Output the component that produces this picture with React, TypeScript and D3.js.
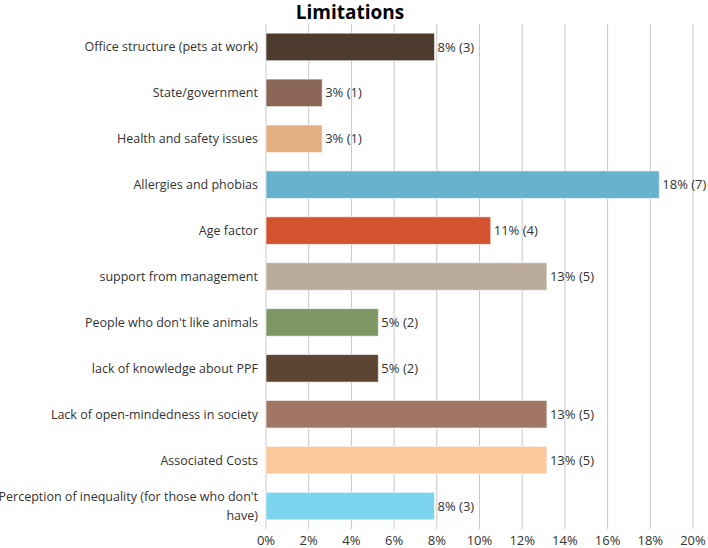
import React from "react";
import * as d3 from "d3";

const categories = [
  "Office structure (pets at work)",
  "State/government",
  "Health and safety issues",
  "Allergies and phobias",
  "Age factor",
  "support from management",
  "People who don't like animals",
  "lack of knowledge about PPF",
  "Lack of open-mindedness in society",
  "Associated Costs",
  "Perception of inequality (for those who don't have)",
];
const counts = [3, 1, 1, 7, 4, 5, 2, 2, 5, 5, 3];
const total = 38;
const colors = [
  "#4e3b30", "#8b6656", "#e2ae82", "#67b2cc", "#d2532d", "#bbab9b",
  "#7e9863", "#5c4535", "#a07766", "#fdc99c", "#7dd4ef",
];
const tickValues = [0, 0.02, 0.04, 0.06, 0.08, 0.1, 0.12, 0.14, 0.16, 0.18, 0.2];

const W = 708, H = 548;
const M = { left: 266, right: 15, top: 24, bottom: 19 };
const FONT = "'Open Sans', 'Noto Sans', sans-serif";

export default function App() {
  const x = d3.scaleLinear().domain([0, 0.2]).range([M.left, W - M.right]);
  const y = d3.scaleBand<number>().domain(d3.range(categories.length)).range([M.top, H - M.bottom]).paddingInner(0.4).paddingOuter(0.2);
  const pct = (c: number) => c / total;

  const wrap = (s: string): string[] => {
    if (s.length > 40) {
      const idx = s.lastIndexOf(" ");
      return [s.slice(0, idx), s.slice(idx + 1)];
    }
    return [s];
  };

  return (
    <svg width={W} height={H} style={{ position: "absolute", left: 0, top: 0, background: "#fff" }} fontFamily={FONT}>
      <text x={350} y={19} textAnchor="middle" fontSize={19} fontWeight="bold" fill="#000">Limitations</text>
      {tickValues.map((t) => (
        <g key={t}>
          <line x1={x(t)} x2={x(t)} y1={M.top} y2={H - M.bottom} stroke="#c8c8c8" strokeWidth={1} />
          <text x={x(t)} y={545} textAnchor="middle" fontSize={13} fill="#333">{d3.format(".0%")(t)}</text>
        </g>
      ))}
      {categories.map((c, i) => {
        const yy = y(i)!;
        const bw = y.bandwidth();
        const lines = wrap(c);
        const cy = yy + bw / 2;
        const v = pct(counts[i]);
        return (
          <g key={c}>
            <rect x={x(0)} y={yy} width={x(v) - x(0)} height={bw} fill={colors[i]} stroke="#ffffff" strokeOpacity={0.6} strokeWidth={1} />
            {lines.map((l, j) => (
              <text key={j} x={258} y={cy + (j - (lines.length - 1) / 2) * 19} dy="0.35em" textAnchor="end" fontSize={12.5} fill="#333">{l}</text>
            ))}
            <text x={x(v) + 3} y={cy} dy="0.35em" fontSize={13} fill="#333">{`${Math.round(v * 100)}% (${counts[i]})`}</text>
          </g>
        );
      })}
    </svg>
  );
}
